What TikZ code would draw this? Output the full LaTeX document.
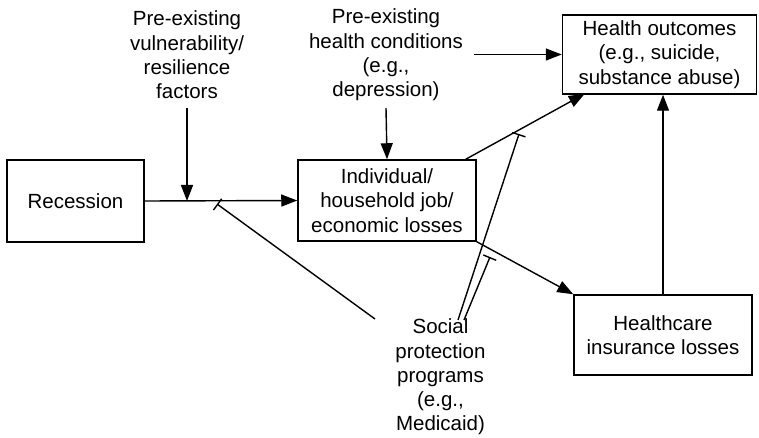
\documentclass[tikz,border=0pt]{standalone}
\usepackage{fontspec}
\setmainfont{Liberation Sans}
\usetikzlibrary{arrows.meta}
\begin{document}
\begin{tikzpicture}[x=1pt,y=-1pt,
  txt/.style={font=\fontsize{20.5}{24.3}\selectfont, align=center, inner sep=0pt},
  box/.style={txt, draw, line width=1.5pt, anchor=center},
  conn/.style={line width=1.4pt, -{Triangle[length=16pt,width=12pt]}},
  inhib/.style={line width=1.4pt, -{Bar[width=14pt,line width=1.4pt]}}]
\useasboundingbox (0,0) rectangle (759,438);
% boxes
\node[box, minimum width=137pt, minimum height=82pt] (rec) at (75.5,201) {Recession};
\node[box, minimum width=178pt, minimum height=81pt] (ind) at (387,200.5) {Individual/\\household job/\\economic losses};
\node[box, minimum width=194pt, minimum height=79pt] (ho) at (659.5,54.5) {Health outcomes\\(e.g., suicide,\\substance abuse)};
\node[box, minimum width=178pt, minimum height=80pt] (hc) at (663,335) {Healthcare\\insurance losses};
% free labels
\node[txt] (vul) at (187,55) {Pre-existing\\vulnerability/\\resilience\\factors};
\node[txt] (phc) at (386,55) {Pre-existing\\health conditions\\(e.g.,\\depression)};
\node[txt] (sp) at (440.5,377) {Social\\protection\\programs\\(e.g.,\\Medicaid)};
% coordinates
\coordinate (j1) at (187,201);
\coordinate (t1) at (217,204);
\coordinate (t2) at (519,134);
\coordinate (t3) at (490,257);
\coordinate (s1) at (375,319);
\coordinate (s2) at (458,320);
\coordinate (s3) at (464,320);
% connectors
\draw[conn] (rec.east) -- (ind.west);
\draw[conn] (vul.south |- 0,108) -- (j1);
\draw[conn] (phc.south |- 0,108) -- (ind.north);
\draw[conn] ([xshift=11pt]phc.east |- ho.west) -- (ho.west);
\draw[conn] ([xshift=-11pt]ind.north east) -- ([xshift=23pt,yshift=1pt]ho.south west);
\draw[conn] (ind.south east) -- (hc.north west);
\draw[conn] (hc.north) -- (hc.north |- ho.south);
% inhibitors
\draw[inhib] (s1) -- (t1);
\draw[inhib] (s2) -- (t2);
\draw[inhib] (s3) -- (t3);
\end{tikzpicture}
\end{document}
